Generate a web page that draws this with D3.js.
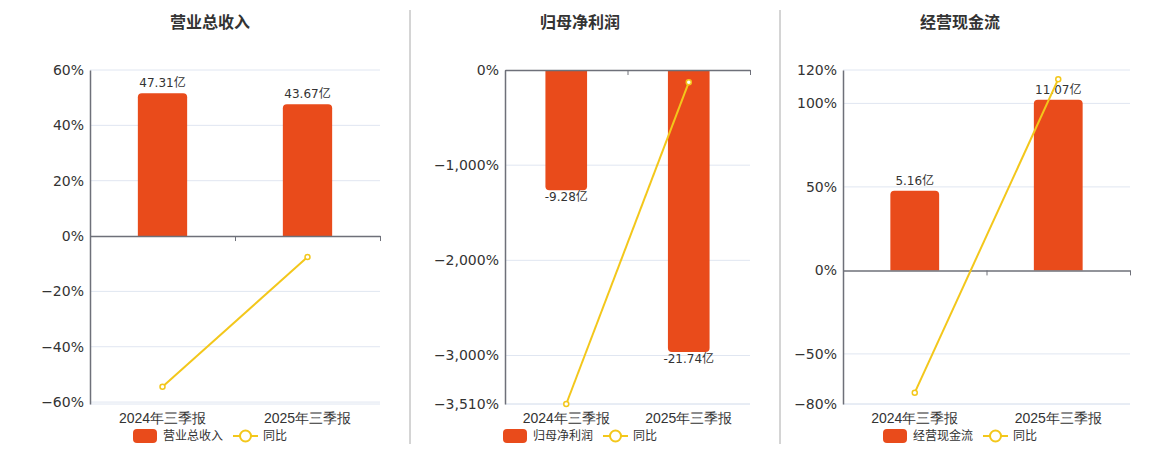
<!DOCTYPE html>
<html lang="zh">
<head>
  <meta charset="UTF-8">
  <title>三季报</title>
  <script src="https://d3js.org/d3.v7.min.js"></script>
  <style>
    body {
      margin: 0;
      background: #fff;
      font-family: "DejaVu Sans", "Noto Sans CJK SC", sans-serif;
    }
    svg { display: block; }
  </style>
</head>
<body>
  <svg id="chart" width="1160" height="450"></svg>
  <script>
    // data
    const categories = ["2024年三季报", "2025年三季报"];
    const titles = ["营业总收入", "归母净利润", "经营现金流"];

    const revenueValues = [47.31, 43.67];
    const revenueYoy = [-54.5, -7.6];
    const revenueTicks = [60, 40, 20, 0, -20, -40, -60];

    const profitValues = [-9.28, -21.74];
    const profitYoy = [-3510, -130];
    const profitTicks = [0, -1000, -2000, -3000, -3510];

    const cashValues = [5.16, 11.07];
    const cashYoy = [-73.2, 114.5];
    const cashTicks = [120, 100, 50, 0, -50, -80];

    const barColor = "#e94b1b";
    const lineColor = "#f3c71b";
    const gridColor = "#e0e6f1";
    const axisColor = "#6e7079";
    const textColor = "#333";

    const plotTop = 70, plotBottom = 404;

    const panels = [
      { title: titles[0], values: revenueValues, yoy: revenueYoy, ticks: revenueTicks,
        pct: [-60.7, 60], barMax: 55, x0: 90, x1: 380, center: 210 },
      { title: titles[1], values: profitValues, yoy: profitYoy, ticks: profitTicks,
        pct: [-3510, 0], barMax: 25.75, x0: 505, x1: 750, center: 580 },
      { title: titles[2], values: cashValues, yoy: cashYoy, ticks: cashTicks,
        pct: [-80, 120], barMax: 13, x0: 843, x1: 1130, center: 960 }
    ];

    const svg = d3.select("#chart");

    // separators
    svg.selectAll(".sep")
      .data([410, 780])
      .enter()
      .append("line")
      .attr("x1", d => d).attr("x2", d => d)
      .attr("y1", 10).attr("y2", 444)
      .attr("stroke", "#aaa")
      .attr("stroke-width", 1);

    function barPath(x, w, y0, y1, r) {
      // rounded corners at the far end of the bar
      if (y1 < y0) {
        return `M${x},${y0}V${y1 + r}Q${x},${y1} ${x + r},${y1}H${x + w - r}Q${x + w},${y1} ${x + w},${y1 + r}V${y0}Z`;
      }
      return `M${x},${y0}V${y1 - r}Q${x},${y1} ${x + r},${y1}H${x + w - r}Q${x + w},${y1} ${x + w},${y1 - r}V${y0}Z`;
    }

    panels.forEach(p => {
      const g = svg.append("g");
      const names = categories;

      const xScale = d3.scaleBand().domain(names).range([p.x0, p.x1]);
      const yScale = d3.scaleLinear().domain(p.pct).range([plotBottom, plotTop]);
      const k = p.pct[1] !== 0 ? p.barMax / p.pct[1] : p.barMax / -p.pct[0];
      const barScale = d3.scaleLinear()
        .domain([p.pct[0] * k, p.pct[1] * k])
        .range([plotBottom, plotTop]);

      // title
      g.append("text")
        .attr("x", p.center)
        .attr("y", 28)
        .attr("text-anchor", "middle")
        .attr("font-size", 16)
        .attr("font-weight", "bold")
        .attr("fill", textColor)
        .text(p.title);

      // grid
      const gridVals = p.ticks.filter(t => t !== 0).concat([p.pct[0]]);
      g.selectAll(".grid")
        .data(gridVals)
        .enter()
        .append("line")
        .attr("x1", p.x0).attr("x2", p.x1)
        .attr("y1", d => yScale(d)).attr("y2", d => yScale(d))
        .attr("stroke", gridColor)
        .attr("stroke-width", 1);

      // y axis
      const yAxis = d3.axisLeft(yScale)
        .tickValues(p.ticks)
        .tickFormat(d => d3.format(",")(d) + "%")
        .tickSize(0)
        .tickPadding(6);
      const ya = g.append("g")
        .attr("transform", `translate(${p.x0},0)`)
        .call(yAxis);
      ya.select(".domain").attr("stroke", axisColor).attr("stroke-width", 1.5);
      ya.selectAll("text")
        .attr("font-size", 14)
        .attr("fill", textColor)
        .attr("font-family", "DejaVu Sans, sans-serif");

      // bars
      const bw = xScale.bandwidth() * 0.34;
      g.selectAll(".bar")
        .data(p.values)
        .enter()
        .append("path")
        .attr("d", (d, i) => {
          const cx = xScale(names[i]) + xScale.bandwidth() / 2;
          return barPath(cx - bw / 2, bw, barScale(0), barScale(d), 4);
        })
        .attr("fill", barColor);

      // bar labels
      g.selectAll(".blabel")
        .data(p.values)
        .enter()
        .append("text")
        .attr("x", (d, i) => xScale(names[i]) + xScale.bandwidth() / 2)
        .attr("y", d => d >= 0 ? barScale(d) - 6 : barScale(d) + 11)
        .attr("text-anchor", "middle")
        .attr("font-size", 12)
        .attr("fill", textColor)
        .text(d => d.toFixed(2) + "亿");

      // x axis at zero with boundary ticks
      const tickScale = d3.scaleLinear().domain([0, names.length]).range([p.x0, p.x1]);
      const xa = g.append("g")
        .attr("transform", `translate(0,${yScale(0)})`)
        .call(d3.axisBottom(tickScale)
          .tickValues(d3.range(names.length + 1))
          .tickFormat("")
          .tickSize(5)
          .tickSizeOuter(0));
      xa.select(".domain").attr("stroke", axisColor).attr("stroke-width", 1.5);
      xa.selectAll(".tick line").attr("stroke", axisColor);

      // category labels
      const xl = g.append("g")
        .attr("transform", `translate(0,${plotBottom})`)
        .call(d3.axisBottom(xScale).tickSize(0).tickPadding(9));
      xl.select(".domain").remove();
      xl.selectAll("text")
        .attr("font-size", 14)
        .attr("fill", textColor);

      // yoy line
      const line = d3.line()
        .x((d, i) => xScale(names[i]) + xScale.bandwidth() / 2)
        .y(d => yScale(d));
      g.append("path")
        .datum(p.yoy)
        .attr("d", line)
        .attr("fill", "none")
        .attr("stroke", lineColor)
        .attr("stroke-width", 2);
      g.selectAll(".pt")
        .data(p.yoy)
        .enter()
        .append("circle")
        .attr("cx", (d, i) => xScale(names[i]) + xScale.bandwidth() / 2)
        .attr("cy", d => yScale(d))
        .attr("r", 2.5)
        .attr("fill", "#fff")
        .attr("stroke", lineColor)
        .attr("stroke-width", 1.5);

      // legend
      const lx = p.center - 77;
      const ly = 436;
      const lg = g.append("g");
      lg.append("rect")
        .attr("x", lx).attr("y", ly - 7)
        .attr("width", 24).attr("height", 14)
        .attr("rx", 4)
        .attr("fill", barColor);
      lg.append("text")
        .attr("x", lx + 30).attr("y", ly + 4)
        .attr("font-size", 12)
        .attr("fill", textColor)
        .text(p.title);
      lg.append("line")
        .attr("x1", lx + 100).attr("x2", lx + 125)
        .attr("y1", ly).attr("y2", ly)
        .attr("stroke", lineColor)
        .attr("stroke-width", 2);
      lg.append("circle")
        .attr("cx", lx + 112.5).attr("cy", ly)
        .attr("r", 5.5)
        .attr("fill", "#fff")
        .attr("stroke", lineColor)
        .attr("stroke-width", 2);
      lg.append("text")
        .attr("x", lx + 130).attr("y", ly + 4)
        .attr("font-size", 12)
        .attr("fill", textColor)
        .text("同比");
    });
  </script>
</body>
</html>
